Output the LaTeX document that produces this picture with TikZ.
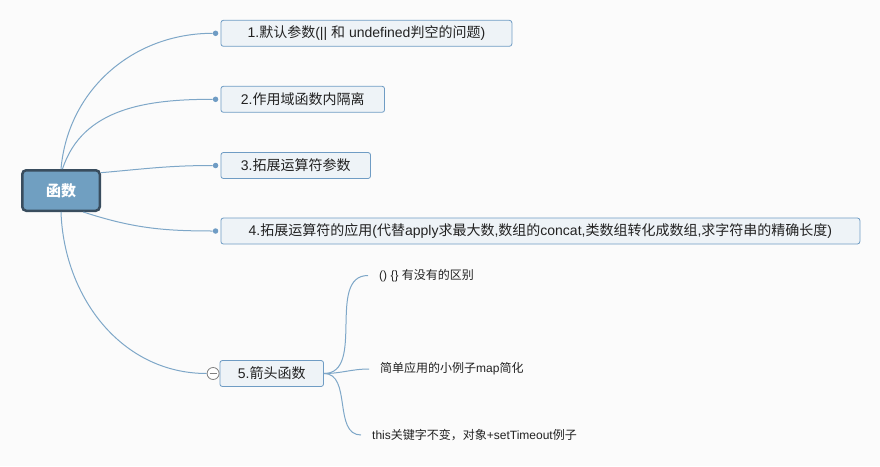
\documentclass[tikz,border=0pt]{standalone}
\usepackage{fontspec}
\setmainfont{Liberation Sans}
\newfontfamily\latinfont{Liberation Sans}
\newfontfamily\cjkfont{Noto Sans CJK SC}
% switch to the CJK face for ideographs and full-width forms
\XeTeXinterchartokenstate=1
\newXeTeXintercharclass\cjkclass
\count255="3000
\loop\ifnum\count255<"A000 \XeTeXcharclass\count255=\cjkclass \advance\count255 by 1 \repeat
\count255="FF00
\loop\ifnum\count255<"FFF0 \XeTeXcharclass\count255=\cjkclass \advance\count255 by 1 \repeat
\XeTeXinterchartoks 0 \cjkclass = {\cjkfont}
\XeTeXinterchartoks 4095 \cjkclass = {\cjkfont}
\XeTeXinterchartoks \cjkclass 0 = {\latinfont}
\XeTeXinterchartoks \cjkclass 4095 = {\latinfont}
\usetikzlibrary{positioning,calc}
\definecolor{rootfill}{RGB}{112,159,193}
\definecolor{rootline}{RGB}{57,77,94}
\definecolor{topicfill}{RGB}{238,243,247}
\definecolor{topicline}{RGB}{111,156,196}
\definecolor{branchline}{RGB}{126,167,200}
\definecolor{inktext}{RGB}{34,34,34}
\definecolor{paper}{RGB}{251,251,251}

\begin{document}
\begin{tikzpicture}[x=1pt,y=-1pt,
  rootbox/.style={draw=rootline,line width=2.5pt,fill=rootfill,rounded corners=4pt,
    minimum width=77.5pt,minimum height=40.5pt,text=white,font=\fontsize{15}{18}\selectfont\bfseries},
  topic/.style={draw=topicline,line width=0.8pt,fill=topicfill,rounded corners=2.5pt,
    minimum height=26pt,inner xsep=20pt,anchor=west,text=inktext,font=\fontsize{14}{16}\selectfont},
  leaf/.style={anchor=west,inner xsep=11pt,text=inktext,font=\fontsize{12}{14}\selectfont},
  branch/.style={draw=branchline,line width=1pt},
  knob/.style={circle,fill=topicline,inner sep=0pt,minimum size=5.5pt},
  fold/.style={circle,draw=gray,fill=white,line width=0.8pt,inner sep=0pt,minimum size=12pt}]
\useasboundingbox[fill=paper] (0,0) rectangle (880,466);
% central topic and its five subtopics
\node[rootbox] (root) at (61,190.5) {函数};
\node[topic,minimum width=291pt] (t1) at (220.5,33.3) {1.默认参数(|| 和 undefined判空的问题)};
\node[topic] (t2) at (220.5,99.3) {2.作用域函数内隔离};
\node[topic] (t3) at (220.5,165.5) {3.拓展运算符参数};
\node[topic,minimum width=639pt] (t4) at (220.5,231) {4.拓展运算符的应用(代替apply求最大数,数组的concat,类数组转化成数组,求字符串的精确长度)};
\node[topic,inner xsep=18pt] (t5) at (219.5,373.5) {5.箭头函数};
\foreach \i in {1,...,4} {\node[knob,left=2pt of t\i] (k\i) {};}
\node[fold,left=0pt of t5] (f5) {};
\draw[gray,line width=0.8pt] ([xshift=-3.5pt]f5.center) -- ([xshift=3.5pt]f5.center);
% leaves of 5
\node[leaf] (l1) at (368,275.5) {() \{\} 有没有的区别};
\node[leaf] (l2) at (369,369) {简单应用的小例子map简化};
\node[leaf] (l3) at (361,435) {this关键字不变，对象+setTimeout例子};
% branches
\draw[branch] (root.north) to[out=85,in=180] (k1);
\draw[branch] (root.86) to[out=72,in=180] (k2);
\draw[branch] (root.24) to[out=5,in=180] (k3);
\draw[branch] (root.-44) to[out=-18,in=180] (k4);
\draw[branch] (root.south) to[out=-88,in=180] (f5);
\foreach \j in {1,2,3} {\draw[branch] (t5.east) to[out=0,in=180] (l\j.west);}
\end{tikzpicture}
\end{document}
